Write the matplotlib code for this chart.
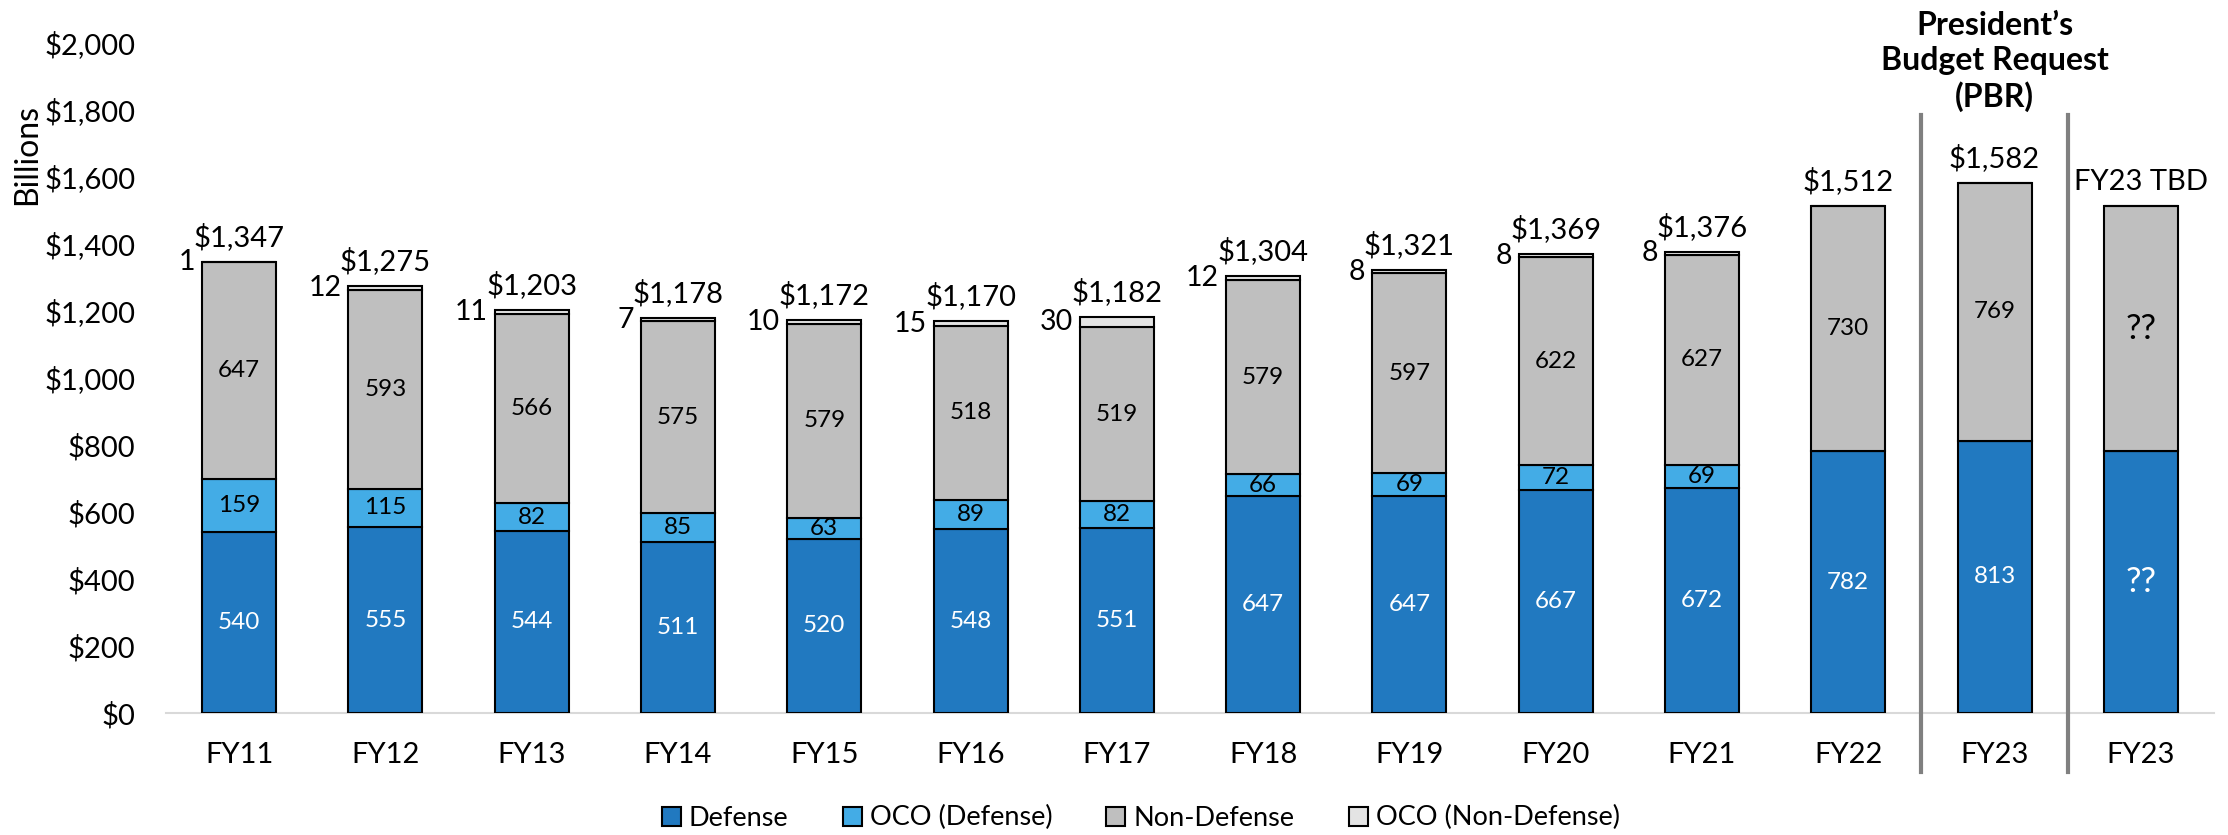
import numpy as np
import matplotlib
matplotlib.use("Agg")
import matplotlib.pyplot as plt
from matplotlib.ticker import FuncFormatter

plt.rcParams['font.family'] = ['Lato', 'DejaVu Sans']

years = ["FY11", "FY12", "FY13", "FY14", "FY15", "FY16", "FY17",
         "FY18", "FY19", "FY20", "FY21", "FY22", "FY23", "FY23"]
defense = [540, 555, 544, 511, 520, 548, 551, 647, 647, 667, 672, 782, 813, 782]
oco_defense = [159, 115, 82, 85, 63, 89, 82, 66, 69, 72, 69, 0, 0, 0]
non_defense = [647, 593, 566, 575, 579, 518, 519, 579, 597, 622, 627, 730, 769, 730]
oco_non_defense = [1, 12, 11, 7, 10, 15, 30, 12, 8, 8, 8, 0, 0, 0]
tbd_label = "FY23 TBD"

c_def = "#2179C0"
c_oco_def = "#43ACE6"
c_non = "#BFBFBF"
c_oco_non = "#E4E4E4"

x = np.arange(len(years))
w = 0.506
defense = np.array(defense)
oco_defense = np.array(oco_defense)
non_defense = np.array(non_defense)
oco_non_defense = np.array(oco_non_defense)
totals = defense + oco_defense + non_defense + oco_non_defense

fig = plt.figure(figsize=(22.28, 8.35), dpi=100)
ax = fig.add_axes([166 / 2228, 1 - 713 / 835, 2048 / 2228, 670 / 835])

kw = dict(width=w, edgecolor="black", linewidth=1.5, zorder=3)
b1 = ax.bar(x, defense, color=c_def, label="Defense", **kw)
b2 = ax.bar(x, oco_defense, bottom=defense, color=c_oco_def, label="OCO (Defense)", **kw)
b3 = ax.bar(x, non_defense, bottom=defense + oco_defense, color=c_non, label="Non-Defense", **kw)
b4 = ax.bar(x, oco_non_defense, bottom=defense + oco_defense + non_defense,
            color=c_oco_non, label="OCO (Non-Defense)", **kw)

# segment labels, last column is still unknown
def_labels = [str(v) for v in defense[:-1]] + ["??"]
non_labels = [str(v) for v in non_defense[:-1]] + ["??"]
oco_labels = [str(v) if v > 0 else "" for v in oco_defense]
ax.bar_label(b1, labels=def_labels, label_type="center", color="white", fontsize=17.5)
ax.bar_label(b2, labels=oco_labels, label_type="center", color="black", fontsize=17.5)
ax.bar_label(b3, labels=non_labels, label_type="center", color="black", fontsize=17.5)
# bigger question marks
for t in ax.texts:
    if t.get_text() == "??":
        t.set_fontsize(25)

# OCO non-defense labels sit left of the bar top
bottom4 = defense + oco_defense + non_defense
for xi, v, b in zip(x, oco_non_defense, bottom4):
    if v > 0:
        ax.annotate(str(v), (xi - w / 2, b + v / 2), xytext=(-5, 0), textcoords="offset points",
                    ha="right", va="center", fontsize=20.5)

# totals above bars
for i, (xi, t) in enumerate(zip(x, totals)):
    lbl = f"${t:,}" if i < len(x) - 1 else tbd_label
    ax.annotate(lbl, (xi, t), xytext=(0, 8), textcoords="offset points",
                ha="center", va="bottom", fontsize=21)

# separators for the PBR column
for sx in [x[-3] + 0.5, x[-2] + 0.5]:
    ax.plot([sx, sx], [-175, 1785], color="#808080", lw=3, clip_on=False, zorder=4)
ax.text(x[-2], 1944, "President\u2019s\nBudget Request\n(PBR)", ha="center", va="center",
        fontsize=23, fontweight="bold", linespacing=1.25)

ax.set_xlim(-0.5, len(x) - 0.5)
ax.set_ylim(0, 2000)
ax.set_yticks(range(0, 2001, 200))
ax.yaxis.set_major_formatter(FuncFormatter(lambda v, p: f"${int(v):,}"))
ax.set_xticks(x)
ax.set_xticklabels(years)
ax.tick_params(axis="both", length=0, labelsize=21)
ax.tick_params(axis="y", pad=22)
ax.tick_params(axis="x", pad=21)
for s in ["top", "right", "left"]:
    ax.spines[s].set_visible(False)
ax.spines["bottom"].set_color("#D9D9D9")
ax.spines["bottom"].set_linewidth(1.5)

ax.set_ylabel("Billions", fontsize=23)
ax.yaxis.set_label_coords(-0.0605, 0.833)

ax.legend(handles=[b1, b2, b3, b4], loc="center", bbox_to_anchor=(0.512, 0.0204),
          bbox_transform=fig.transFigure, ncol=4, frameon=False, fontsize=19.5,
          handlelength=0.7, handleheight=0.7, handletextpad=0.3, columnspacing=2.0)

fig.savefig("out.png", dpi=100)
